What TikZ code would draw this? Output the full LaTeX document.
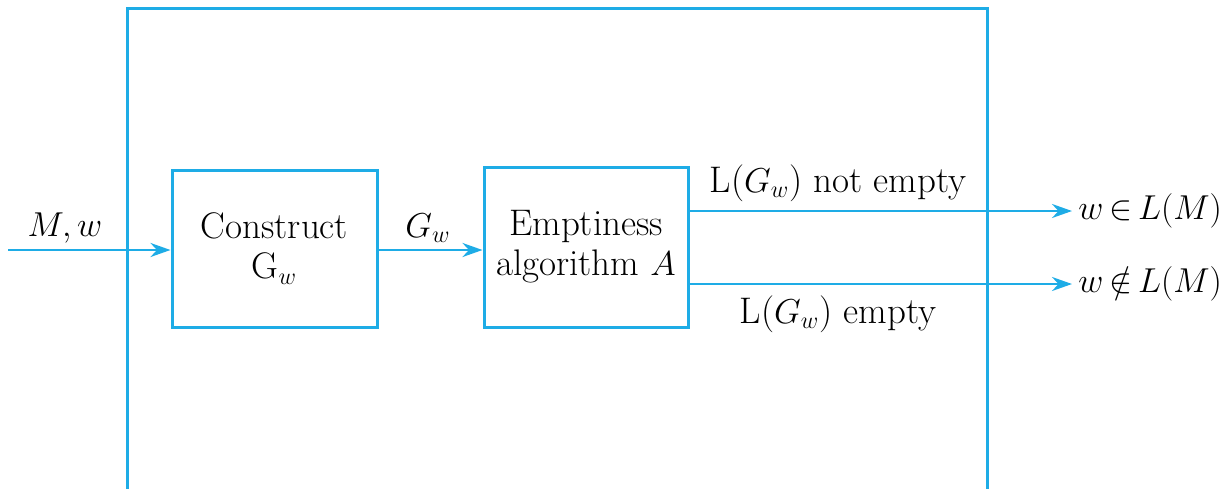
\documentclass[tikz,border=0pt]{standalone}
\usetikzlibrary{arrows.meta,calc}
\definecolor{flowblue}{RGB}{30,172,230}

\begin{document}
\begin{tikzpicture}[x=0.5pt,y=-0.5pt,>={Stealth[length=10pt,width=7pt]},
    every node/.style={font=\fontsize{18.5}{20}\selectfont},
    block/.style={draw=flowblue,line width=1.5pt,fill=white,align=center,inner sep=0pt},
    flow/.style={->,draw=flowblue,line width=1.4pt}]
  \useasboundingbox (0,0) rectangle (1231,488);
  \draw[flowblue,line width=1.5pt] (127,490) -- (127,8) -- (987,8) -- (987,490);
  \node[block,minimum width=102.5pt,minimum height=78.5pt] (cons) at (274.5,248.5)
    {Construct\\G$_w$};
  \node[block,minimum width=102pt,minimum height=80pt] (empt) at (586,247)
    {Emptiness\\algorithm $A$};
  \coordinate (in) at (8,250);
  \coordinate (yes) at (1072,211);
  \coordinate (no) at (1072,284);
  \draw[flow] (in) -- (in -| cons.west);
  \draw[flow] (cons.east |- in) -- (in -| empt.west);
  \draw[flow] (yes -| empt.east) -- (yes);
  \draw[flow] (no -| empt.east) -- (no);
  \node (mw) at (65,228) {$M,w$};
  \node (gw) at (428,228) {$G_w$};
  \node (ne) at (838,183) {L($G_w$) not empty};
  \node (em) at (838,314) {L($G_w$) empty};
  \node[anchor=west,inner sep=0pt,xshift=3pt,font=\fontsize{17}{20}\selectfont] (acc) at (yes)
    {$w\,{\in}\,L(M)$};
  \node[anchor=west,inner sep=0pt,xshift=3pt,font=\fontsize{17}{20}\selectfont] (rej) at (no)
    {$w\,{\notin}\,L(M)$};
\end{tikzpicture}
\end{document}
